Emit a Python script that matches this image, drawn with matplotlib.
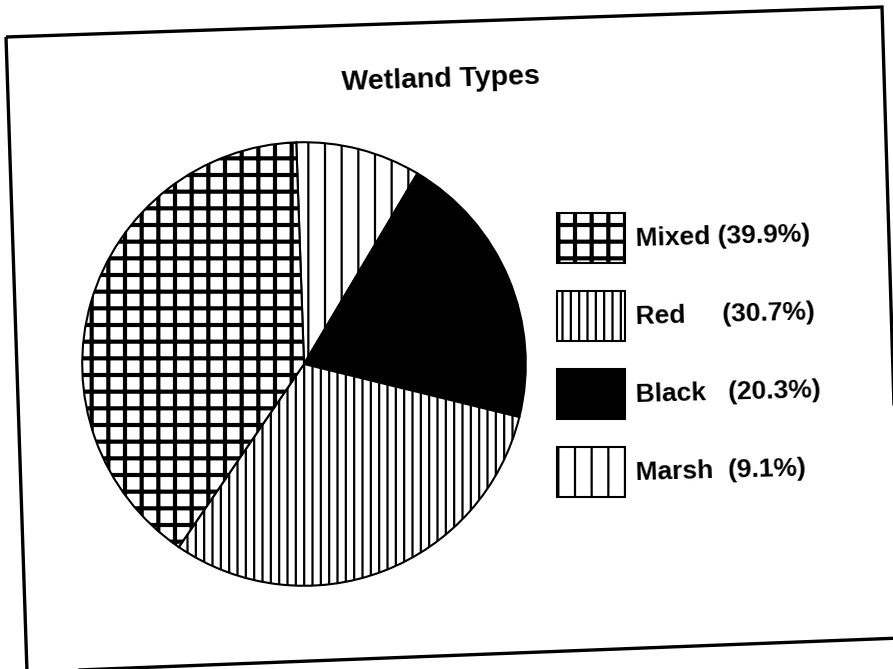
import matplotlib.pyplot as plt
from matplotlib.patches import Polygon

plt.rcParams['font.family'] = ['Liberation Sans', 'DejaVu Sans']
plt.rcParams['hatch.linewidth'] = 2.8

# 数据（图例顺序）
names = ['Mixed', 'Red', 'Black', 'Marsh']
shares = [39.9, 30.7, 20.3, 9.1]
labels = ['Mixed (39.9%)', 'Red     (30.7%)', 'Black   (20.3%)', 'Marsh  (9.1%)']
hatches = ['+', '||', '', '|']
hatch_lw = [3.0, 1.6, 1.0, 1.6]
faces = ['white', 'white', 'black', 'white']

# 饼图顺时针从顶部开始：Marsh, Black, Red, Mixed
order = [3, 2, 1, 0]

W, H = 893, 669
fig = plt.figure(figsize=(W / 100, H / 100), dpi=100)
fig.patch.set_facecolor('white')

ax = fig.add_axes([80 / W, 81 / H, 448 / W, 448 / H])
wedges, _ = ax.pie([shares[i] for i in order],
                   colors=[faces[i] for i in order],
                   startangle=92, counterclock=False,
                   wedgeprops=dict(edgecolor='black', linewidth=1.5))
for w, i in zip(wedges, order):
    w.set_hatch(hatches[i])
    if hasattr(w, 'set_hatch_linewidth'):
        w.set_hatch_linewidth(hatch_lw[i])
ax.set_xlim(-1.01, 1.01)
ax.set_ylim(-1.01, 1.01)

# 图例
fs = 19
handles = [wedges[order.index(i)] for i in range(len(names))]
leg = fig.legend(handles, labels, loc='upper left',
                 bbox_to_anchor=(557 / W, 1 - 213 / H),
                 frameon=False, borderpad=0, borderaxespad=0,
                 handlelength=2.58, handleheight=2.54, labelspacing=1.06,
                 handletextpad=0.38,
                 prop=dict(size=fs, weight='bold'))
for t in leg.get_texts():
    t.set_rotation(1.5)
for p, i in zip(leg.get_patches(), range(len(names))):
    if hasattr(p, 'set_hatch_linewidth'):
        p.set_hatch_linewidth(hatch_lw[i])

fig.text(441 / W, 1 - 80 / H, 'Wetland Types', ha='center', va='center',
         fontsize=20.5, fontweight='bold', rotation=1.8)

# 扫描件的倾斜外框
frame = [(6, 37), (882, 7), (901, 638), (27, 672)]
fig.patches.append(Polygon([(x / W, 1 - y / H) for x, y in frame], closed=True,
                           fill=False, edgecolor='black', linewidth=2.4,
                           transform=fig.transFigure, figure=fig))

fig.savefig('out.png', dpi=100)
